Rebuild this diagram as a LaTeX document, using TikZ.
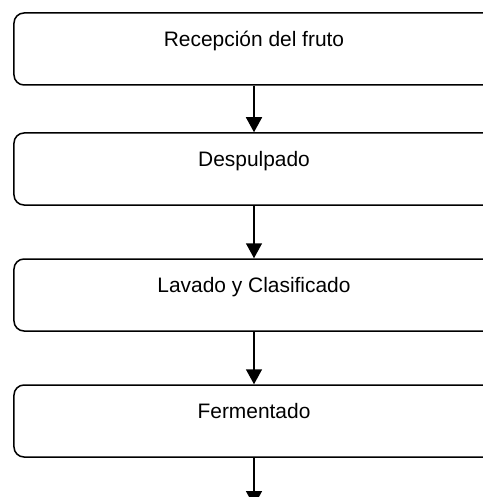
\documentclass[tikz,border=0pt]{standalone}
\usepackage{fontspec}
\setmainfont{Liberation Sans}
\usetikzlibrary{arrows.meta}
\begin{document}
\begin{tikzpicture}[x=1bp,y=-1bp,
  stepbox/.style={draw=black,line width=1.5bp,rounded corners=10bp,minimum width=480bp,minimum height=72bp,inner sep=0pt},
  steplabel/.style={font=\fontsize{21}{24}\selectfont,inner sep=0pt,anchor=base},
  arr/.style={-{Triangle[length=15bp,width=16bp]},line width=1.5bp}]
\useasboundingbox (0,0) rectangle (483,497);
\clip (0,0) rectangle (483,497);
\node[stepbox] (b1) at (254,49) {};
\node[stepbox] (b2) at (254,169) {};
\node[stepbox] (b3) at (254,295) {};
\node[stepbox] (b4) at (254,421) {};
\node[steplabel] (l1) at (254,46.5) {Recepción del fruto};
\node[steplabel] (l2) at (254,166.5) {Despulpado};
\node[steplabel] (l3) at (254,292.5) {Lavado y Clasificado};
\node[steplabel] (l4) at (254,418.5) {Fermentado};
\coordinate (e) at (254,506);
\draw[arr] (b1.south) -- (b2.north);
\draw[arr] (b2.south) -- (b3.north);
\draw[arr] (b3.south) -- (b4.north);
\draw[arr] (b4.south) -- (e);
\end{tikzpicture}
\end{document}
